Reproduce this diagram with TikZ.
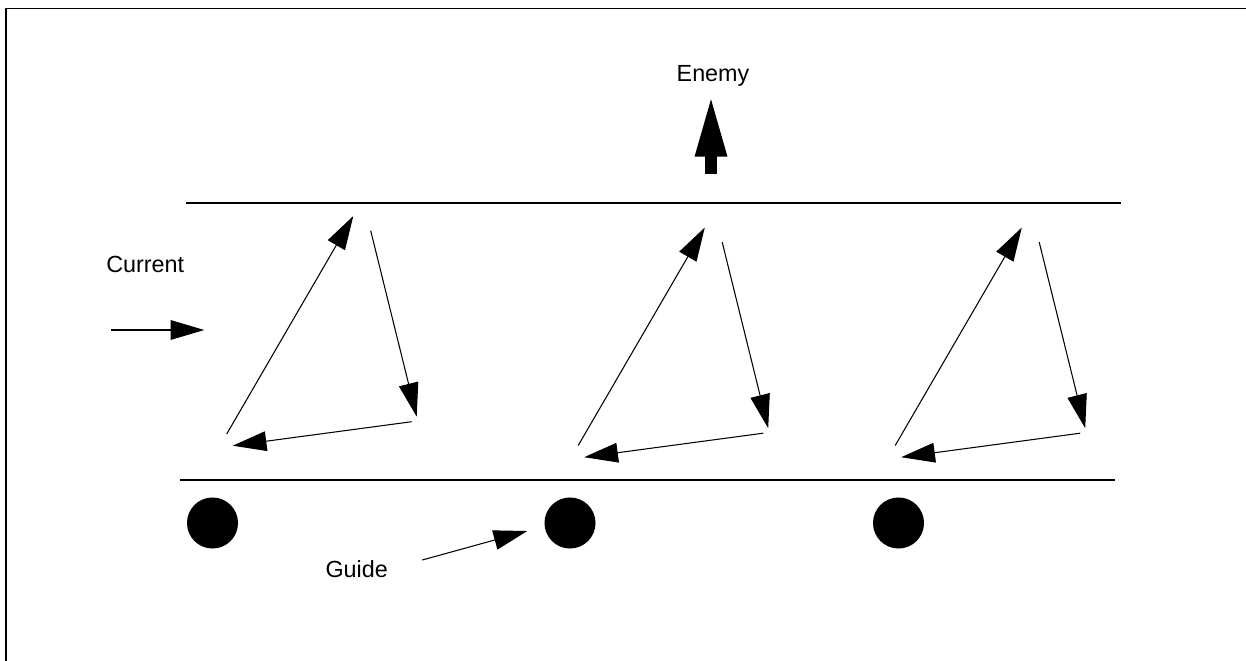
\documentclass[tikz,border=0pt]{standalone}
\usepackage{fontspec}
\setmainfont{Liberation Sans}
\usetikzlibrary{arrows.meta}

\tikzset{
  bank/.style={line width=1.4pt},
  leg/.style={line width=0.75pt,-{Triangle[length=24pt,width=14pt]}},
  word/.style={font=\fontsize{16.6}{20}\selectfont,anchor=base,inner sep=0pt},
  guidedot/.style={circle,fill=black,inner sep=0pt,minimum size=36.3pt}
}

\begin{document}
\begin{tikzpicture}[x=0.025cm,y=-0.025cm]
  \useasboundingbox (0,0) rectangle (1246,661);
  \draw[bank] (6,675) -- (6,8.5) -- (1260,8.5);

  % river banks
  \draw[bank] (186,203) -- (1120.7,203);
  \draw[bank] (180,480) -- (1115,480);

  \node[word] (enemy) at (713,81.7) {Enemy};
  \fill (705.2,174) -- (705.2,156.7) -- (694.5,156.7) -- (711,99.3)
        -- (727.5,156.7) -- (716.8,156.7) -- (716.8,174) -- cycle;

  \node[word] (current) at (145.2,272.3) {Current};
  \coordinate (current-s) at (111,330);
  \coordinate (current-t) at (204.3,330);
  \draw[leg] (current-s) -- (current-t);

  \foreach \k/\dx/\dy in {1/0/0, 2/351.5/11.5, 3/668.5/11.5}
  {
    \begin{scope}[shift={(\dx,\dy)}]
      \coordinate (up\k-s) at (226.7,434);
      \coordinate (up\k-t) at (353.3,216);
      \coordinate (down\k-s) at (370.7,230.7);
      \coordinate (down\k-t) at (416.7,416.7);
      \coordinate (back\k-s) at (411.7,421.7);
      \coordinate (back\k-t) at (232.7,445.7);
      \draw[leg] (up\k-s) -- (up\k-t);
      \draw[leg] (down\k-s) -- (down\k-t);
      \draw[leg] (back\k-s) -- (back\k-t);
    \end{scope}
  }

  \foreach \i/\xc in {1/212.5, 2/570, 3/898.5}
    \node[guidedot] (dot\i) at (\xc,523) {};

  \node[word] (guide) at (356.7,577.3) {Guide};
  \coordinate (guide-s) at (422.3,560);
  \coordinate (guide-t) at (527.3,531);
  \draw[leg] (guide-s) -- (guide-t);
\end{tikzpicture}
\end{document}
